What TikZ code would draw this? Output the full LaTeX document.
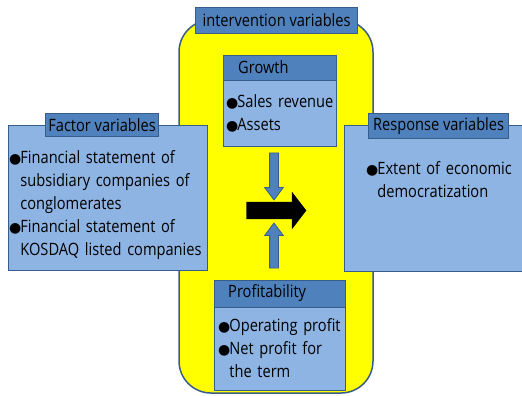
\documentclass[tikz,border=0pt]{standalone}
\usepackage{fontspec}
\setmainfont{Open Sans}[FakeStretch=0.86]
\newfontfamily\bulletfont{DejaVu Sans}
\usetikzlibrary{shapes.arrows}

\newcommand{\itembul}{{\bulletfont\fontsize{14}{23}\selectfont ●}\kern-1pt}

\begin{document}
\begin{tikzpicture}[x=1pt, y=-1pt, font=\fontsize{17}{23}\selectfont]
            % Define Colors
            \definecolor{bodyblue}{RGB}{142, 180, 227}   % box body
            \definecolor{headblue}{RGB}{79, 129, 189}    % title strips
            \definecolor{edgeblue}{RGB}{56, 93, 138}     % outlines
            \definecolor{midyellow}{RGB}{255, 255, 0}

            \tikzset{
                box/.style={draw=edgeblue, line width=1.2pt, fill=bodyblue, anchor=north west, inner sep=0pt},
                tag/.style={draw=edgeblue, line width=1.2pt, fill=headblue, inner sep=0pt},
                items/.style={anchor=base west, inner sep=0pt, align=left, text width=#1},
                bluearrow/.style={single arrow, draw=edgeblue, line width=0.8pt, fill=headblue,
                        inner xsep=0pt, inner ysep=4pt, minimum height=#1, minimum width=18pt,
                        single arrow head extend=5pt, single arrow tip angle=74},
            }

            \useasboundingbox (0,0) rectangle (522,396);

            % Intervention area
            \filldraw[draw=edgeblue, line width=1.5pt, fill=midyellow, rounded corners=32pt] (179,20) rectangle (373,393);

            % Factor and response boxes
            \node[box, minimum width=199pt, minimum height=145pt] (factor) at (8,125) {};
            \node[box, minimum width=178pt, minimum height=146pt] (response) at (344,125) {};

            % Growth box
            \node[box, minimum width=113pt, minimum height=91pt] (growth) at (223,55) {};
            \node[tag, minimum width=113pt, minimum height=25pt, anchor=north west] (growthhead) at (223,55) {};
            \node[anchor=west, inner sep=0pt] (growthlbl) at (238,67.5) {Growth};

            % Profitability box
            \node[box, minimum width=131pt, minimum height=110pt] (profit) at (214,280) {};
            \node[tag, minimum width=131pt, minimum height=27pt, anchor=north west] (profithead) at (214,280) {};
            \node[anchor=west, inner sep=0pt] (profitlbl) at (228,293.5) {Profitability};

            % Titles
            \node[tag, minimum width=162pt, minimum height=26pt, anchor=north west] (intervlbl) at (195,7) {intervention variables};
            \node[tag, minimum width=113pt, minimum height=23pt, anchor=north west] (factorlbl) at (45,113) {Factor variables};
            \node[tag, minimum width=140pt, minimum height=25pt, anchor=north west] (responselbl) at (368,113) {Response variables};

            % Item lists
            \node[items=200pt] (factoritems) at (9,163) {\itembul Financial statement of\\
                \hphantom{\itembul}subsidiary companies of\\
                \hphantom{\itembul}conglomerates\\
                \itembul Financial statement of\\
                \hphantom{\itembul}KOSDAQ listed companies};
            \node[items=110pt] (growthitems) at (226,107) {\itembul Sales revenue\\
                \itembul Assets};
            \node[items=130pt] (profititems) at (218,331) {\itembul Operating profit\\
                \itembul Net profit for\\
                \hphantom{\itembul}the term};
            \node[items=150pt] (responseitems) at (366,174) {\itembul Extent of economic\\
                \hphantom{\itembul}democratization};

            % Arrows
            \node[bluearrow=47pt, rotate=-90] (growtharrow) at (274,173.5) {};
            \node[bluearrow=45pt, rotate=90] (profitarrow) at (274,248.5) {};
            \node[single arrow, fill=black, inner xsep=0pt, inner ysep=8.5pt, minimum height=60pt, minimum width=37pt,
                single arrow head extend=10pt, single arrow tip angle=105] (mainarrow) at (273,210.5) {};

        \end{tikzpicture}
\end{document}
